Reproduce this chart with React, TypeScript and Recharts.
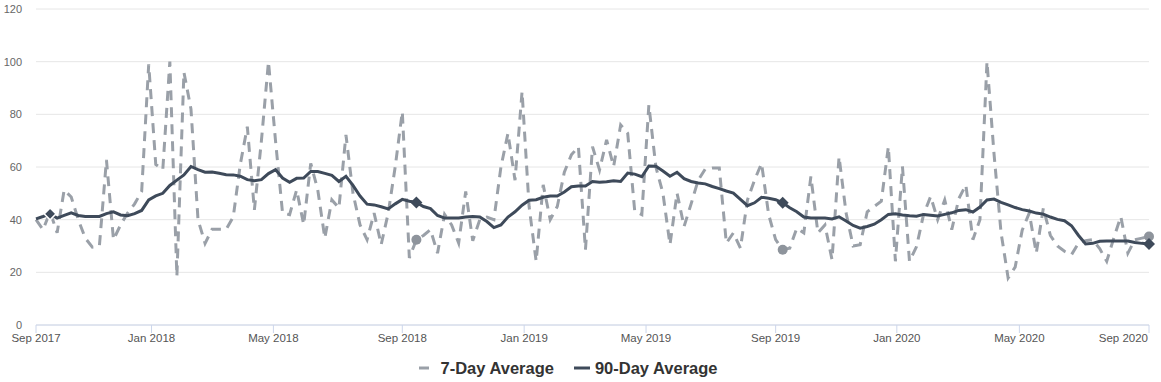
import React from "react";
import { LineChart, Line, XAxis, YAxis, CartesianGrid, Legend } from "recharts";

// weekly readings, index 0 = first week of Sep 2017
const sevenDay = [
  40, 36.2, 43, 35, 51.3, 48.6, 40, 33, 29.6, 30,
  62.7, 32.4, 38, 42.5, 46, 50.7, 99, 61, 59, 100,
  18.5, 96, 82, 40, 31, 36.4, 36.4, 36.4, 41, 61,
  75.3, 43.7, 70, 100, 70, 42.5, 41.9, 51.3, 38.1, 61.4,
  51.3, 33, 47.5, 44.4, 72.2, 50, 38, 32.4, 42.5, 30.5,
  42.5, 60.2, 81, 25.5, 32.4, 34, 36.2, 27.3, 42, 38,
  31.1, 50.7, 32, 40, 41, 40, 60, 72.8, 55, 88.6,
  45, 24.2, 53.2, 40, 45, 58, 64.6, 67.7, 28.6, 67.7,
  58.9, 70.3, 60.2, 76, 72.8, 43.1, 41.9, 83.5, 60, 50,
  30.5, 50.1, 37.4, 46, 55, 59.2, 59.6, 59.6, 31.1, 35,
  29.2, 47.5, 55, 61.4, 42, 32.4, 28.6, 29.2, 36.8, 35,
  56.4, 35, 38, 24.8, 63.9, 42.5, 30, 30.5, 43, 45,
  47, 67.7, 24.2, 60.2, 24.2, 29.8, 42, 48.8, 40, 47.5,
  36.2, 48, 53.2, 32.4, 40, 100, 65, 35, 17.9, 22,
  36, 42.5, 27.3, 44.4, 34, 30, 28, 26.7, 31.1, 32,
  32.4, 29, 24.2, 33, 41.2, 27.3, 32.4, 33, 33.6,
];

const ninetyDay = [
  40.3, 41.2, 42.2, 40.6, 41.6, 42.6, 41.6, 41.2, 41.2, 41.2,
  42.3, 43, 41.8, 41.5, 42.3, 43.5, 47.5, 49, 50, 53,
  55, 57, 60.2, 59, 58, 58.1, 57.6, 57.1, 57, 56.5,
  55.2, 54.8, 55.2, 57.5, 59, 55.8, 54.2, 55.7, 55.8, 58.3,
  58.3, 57.6, 56.8, 54.5, 56.5, 53, 49, 45.9, 45.6, 44.9,
  44.1, 46, 47.7, 47, 46.5, 45, 44.2, 41.6, 40.6, 40.6,
  40.6, 41, 41.2, 41, 39.3, 37, 38, 41, 43, 45.5,
  47.4, 47.6, 48.5, 49, 49, 50.5, 52.5, 52.8, 52.8, 54.5,
  54.2, 54.4, 54.8, 54.5, 57.7, 57.3, 56.3, 60.4, 60.3, 58.5,
  56.5, 58, 55.6, 54.5, 53.9, 53.6, 52.6, 51.8, 50.9, 50.1,
  47.7, 45.3, 46.4, 48.5, 48.1, 47.6, 46.4, 44.5, 43, 41,
  40.6, 40.6, 40.6, 40.3, 41.1, 39.5, 37.8, 36.8, 37.4, 38.3,
  40, 42, 42.2, 41.8, 41.5, 41.3, 42, 41.7, 41.4, 42,
  42.6, 43.5, 43.8, 42.9, 44.8, 47.5, 47.8, 46.6, 45.6, 44.6,
  43.8, 43.3, 42.5, 42.1, 41, 40.1, 39.6, 37.7, 34, 30.8,
  31, 31.8, 31.9, 31.9, 31.9, 31.9, 31.3, 31, 30.8,
];

const tickIdx = [0, 16.4, 33.7, 52, 69.3, 86.6, 105, 122.2, 139.6, 158];
const tickLabels = [
  "Sep 2017", "Jan 2018", "May 2018", "Sep 2018", "Jan 2019",
  "May 2019", "Sep 2019", "Jan 2020", "May 2020", "Sep 2020",
];
const yTicks = [0, 20, 40, 60, 80, 100, 120];
const markerIdx = [2, 54, 106, 158];
const circleIdx = [54, 106, 158];

const GRAY = "#9aa0a8";
const SLATE = "#3e4a5a";
const FONT = '"Liberation Sans", Arial, sans-serif';

const data = sevenDay.map((v, i) => ({ i, d7: v, d90: ninetyDay[i] }));

const XTick = (props: any) => {
  const { x, y, payload } = props;
  const k = tickIdx.indexOf(payload.value);
  const last = k === tickIdx.length - 1;
  return (
    <text x={last ? x - 1 : x} y={y} dy="0.71em" textAnchor={last ? "end" : "middle"}
      fill="#555" fontSize={11.5} fontFamily={FONT}>
      {tickLabels[k]}
    </text>
  );
};

const dot7 = (p: any) =>
  circleIdx.includes(p.index)
    ? <circle key={`c${p.index}`} cx={p.cx} cy={p.cy} r={5} fill="#8e949c" />
    : <g key={`c${p.index}`} />;

const dot90 = (p: any) => {
  if (!markerIdx.includes(p.index)) return <g key={`d${p.index}`} />;
  const { cx, cy } = p;
  const first = p.index === markerIdx[0];
  return (
    <path key={`d${p.index}`} fill={SLATE} stroke={first ? "#fff" : "none"} strokeWidth={first ? 1.5 : 0}
      d={`M${cx},${cy - 6}L${cx + 6},${cy}L${cx},${cy + 6}L${cx - 6},${cy}Z`} />
  );
};

const LegendBox = () => (
  <div style={{ display: "flex", justifyContent: "center", gap: 20, height: 24, lineHeight: "24px",
    paddingRight: 12, fontFamily: FONT, fontSize: 16.5, fontWeight: 700, color: "#333" }}>
    <span style={{ display: "flex", alignItems: "center" }}>
      <svg width={16} height={12}>
        <line x1={0} x2={16} y1={6} y2={6} stroke={GRAY} strokeWidth={3} strokeDasharray="10 7" />
      </svg>
      <span style={{ marginLeft: 5 }}>7-Day Average</span>
    </span>
    <span style={{ display: "flex", alignItems: "center" }}>
      <svg width={16} height={12}>
        <line x1={0} x2={16} y1={6} y2={6} stroke={SLATE} strokeWidth={3} />
      </svg>
      <span style={{ marginLeft: 5 }}>90-Day Average</span>
    </span>
  </div>
);

export default function App() {
  return (
    <div>
      <style>{`body{margin:0}`}</style>
      <LineChart width={1161} height={382} data={data} margin={{ top: 9, right: 12, bottom: 2, left: 0 }}>
        <CartesianGrid vertical={false} stroke="#e6e6e6" />
        <XAxis type="number" dataKey="i" domain={[0, 158]} ticks={tickIdx} interval={0} height={31}
          axisLine={{ stroke: "#ccd6eb" }} tickLine={{ stroke: "#ccd6eb" }} tickSize={8} tickMargin={1}
          tick={<XTick />} />
        <YAxis domain={[0, 120]} ticks={yTicks} axisLine={false} tickLine={false} tickSize={0}
          tickMargin={14} width={36} tick={{ fontSize: 11, fill: "#666", fontFamily: FONT }} />
        <Legend verticalAlign="bottom" content={LegendBox} />
        <Line type="linear" dataKey="d7" stroke={GRAY} strokeWidth={3} strokeDasharray="10 7"
          dot={dot7} activeDot={false} isAnimationActive={false} />
        <Line type="linear" dataKey="d90" stroke={SLATE} strokeWidth={3}
          dot={dot90} activeDot={false} isAnimationActive={false} />
      </LineChart>
    </div>
  );
}
